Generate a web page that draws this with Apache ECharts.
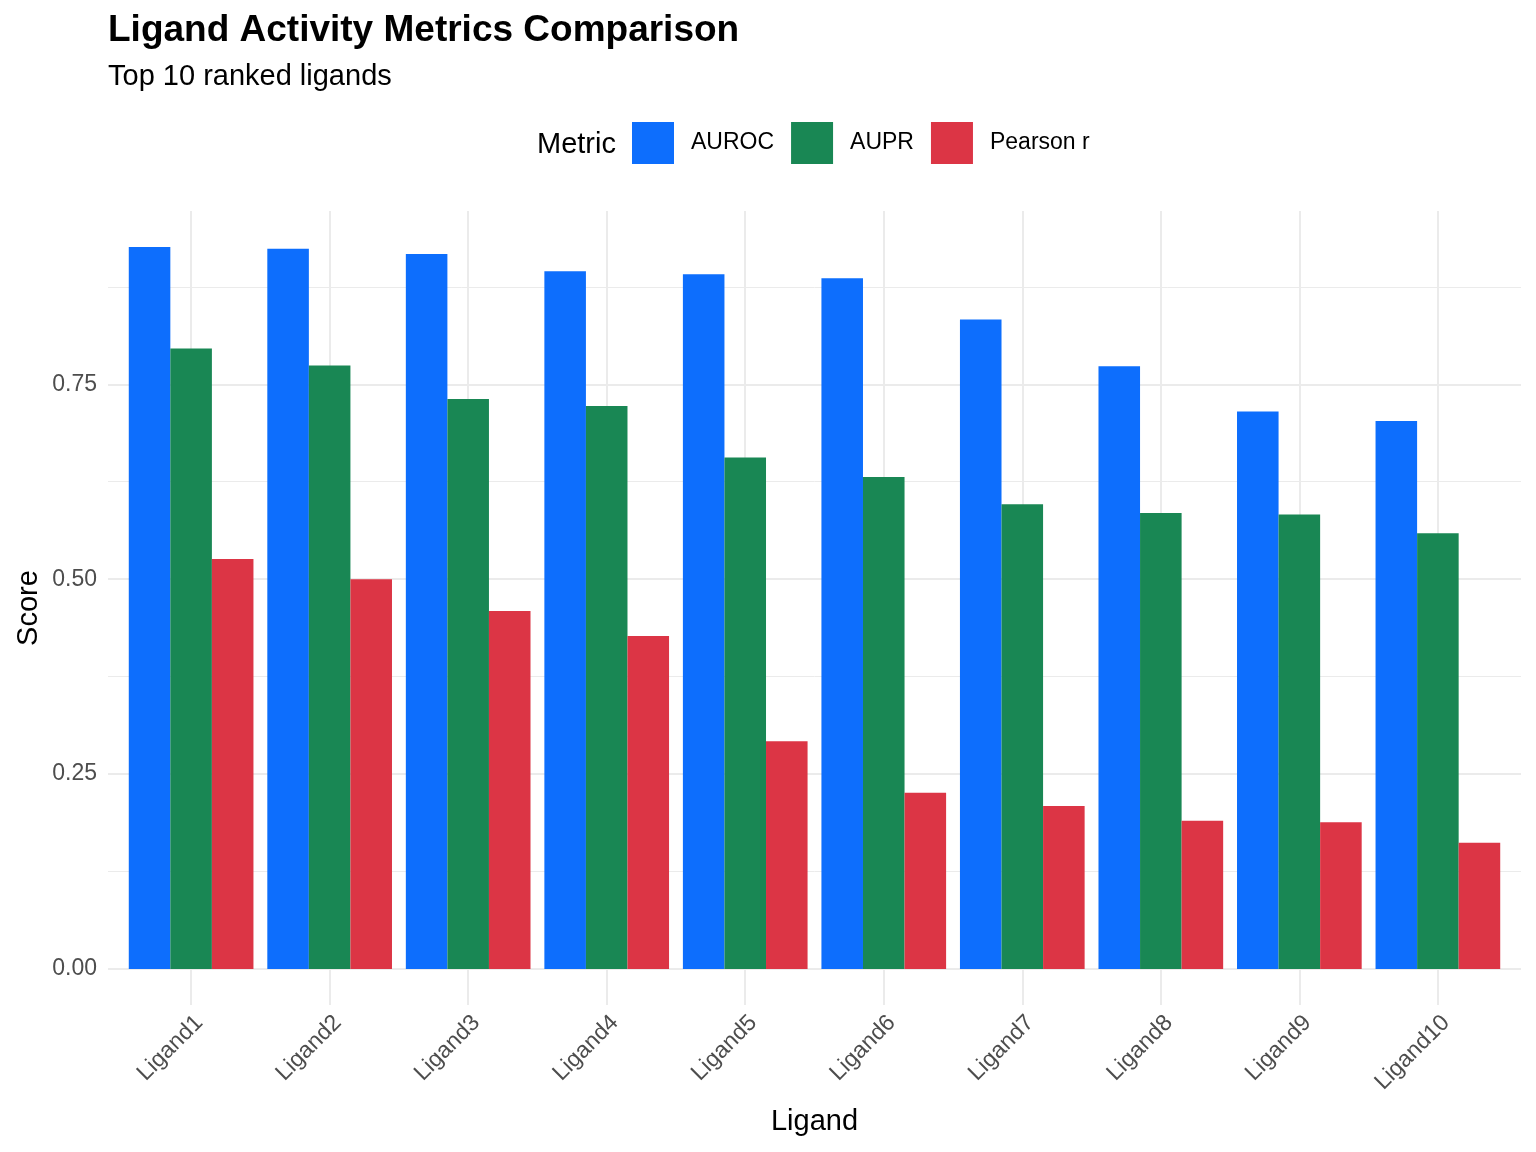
<!DOCTYPE html>
<html>
<head>
<meta charset="utf-8">
<script src="https://cdn.jsdelivr.net/npm/echarts@6/dist/echarts.min.js"></script>
<style>
  html, body { margin: 0; padding: 0; background: #fff; }
  #chart { width: 1536px; height: 1152px; }
</style>
</head>
<body>
<div id="chart"></div>
<script>
// data
var ligands = ['Ligand1', 'Ligand2', 'Ligand3', 'Ligand4', 'Ligand5', 'Ligand6', 'Ligand7', 'Ligand8', 'Ligand9', 'Ligand10'];
var auroc = [0.926, 0.924, 0.917, 0.895, 0.891, 0.886, 0.833, 0.773, 0.715, 0.703];
var aupr = [0.796, 0.774, 0.731, 0.722, 0.656, 0.631, 0.596, 0.585, 0.583, 0.559];
var pearson = [0.526, 0.500, 0.459, 0.427, 0.292, 0.226, 0.209, 0.190, 0.188, 0.162];
var metricNames = ['AUROC', 'AUPR', 'Pearson r'];
var metricColors = ['#0D6EFD', '#198754', '#DC3545'];

// panel layout (ggplot style, 5% expansion on y, 0.6 on discrete x)
var W = 1536, H = 1152;
var panelLeft = 108, panelRight = 1521, panelTop = 211, panelBottom = 1005;
var maxVal = Math.max.apply(null, auroc);
var yMax = maxVal * 1.05, yMin = -maxVal * 0.05;
var pxPerUnit = (panelBottom - panelTop) / (yMax - yMin);
var zeroY = panelBottom + yMin * pxPerUnit;
var band = (panelRight - panelLeft) / (ligands.length + 0.2);
var gridColor = '#EBEBEB';
var font = 'Liberation Sans, Helvetica, Arial, sans-serif';

var chart = echarts.init(document.getElementById('chart'));

var option = {
    backgroundColor: '#fff',
    textStyle: { fontFamily: font },
    title: [
        { text: 'Ligand Activity Metrics Comparison', left: 108, top: 12, padding: 0,
          textStyle: { fontSize: 37, fontWeight: 'bold', color: '#000', fontFamily: font } },
        { text: 'Top 10 ranked ligands', left: 108, top: 62, padding: 0,
          textStyle: { fontSize: 29, fontWeight: 'normal', color: '#000', fontFamily: font } }
    ],
    legend: {
        left: 632, top: 122, padding: 0,
        itemWidth: 42, itemHeight: 42, itemGap: 17,
        icon: 'rect',
        data: metricNames,
        textStyle: { fontSize: 23, color: '#000', padding: [0, 0, 0, 12], fontFamily: font }
    },
    graphic: [
        { type: 'text', x: 537, y: 145,
          style: { text: 'Metric', fill: '#000', font: '29px ' + font, textVerticalAlign: 'middle' } },
        { type: 'text', x: 29, y: (panelTop + panelBottom) / 2, rotation: Math.PI / 2,
          style: { text: 'Score', fill: '#000', font: '29px ' + font, textAlign: 'center', textVerticalAlign: 'middle' } },
        { type: 'text', x: (panelLeft + panelRight) / 2, y: 1122,
          style: { text: 'Ligand', fill: '#000', font: '29px ' + font, textAlign: 'center', textVerticalAlign: 'middle' } }
    ],
    grid: [
        // major y grid + labels
        { left: panelLeft, right: W - panelRight, top: panelTop, bottom: H - zeroY },
        // minor y grid, shifted by 0.125
        { left: panelLeft, right: W - panelRight, top: panelTop, bottom: H - (zeroY - 0.125 * pxPerUnit) },
        // vertical grid lines over the whole panel
        { left: panelLeft + 0.1 * band, right: W - panelRight + 0.1 * band, top: panelTop, bottom: H - panelBottom },
        // bars
        { left: panelLeft + 0.1 * band, right: W - panelRight + 0.1 * band, top: panelTop, bottom: H - zeroY }
    ],
    xAxis: [
        { gridIndex: 0, type: 'value', min: 0, max: 1, show: false },
        { gridIndex: 1, type: 'value', min: 0, max: 1, show: false },
        {
            gridIndex: 2, type: 'category', data: ligands,
            axisLine: { show: false },
            axisTick: { show: true, inside: true, alignWithLabel: true, length: panelBottom - panelTop,
                        lineStyle: { color: gridColor, width: 2 } },
            axisLabel: { show: false },
            splitLine: { show: false }
        },
        {
            gridIndex: 3, type: 'category', data: ligands,
            offset: panelBottom - zeroY,
            axisLine: { show: false },
            axisTick: { show: false },
            axisLabel: { rotate: 45, align: 'right', verticalAlign: 'top', margin: 6,
                         fontSize: 23, color: '#4D4D4D', fontFamily: font },
            splitLine: { show: false }
        }
    ],
    yAxis: [
        {
            gridIndex: 0, type: 'value', min: 0, max: yMax, interval: 0.25,
            axisLine: { show: false }, axisTick: { show: false },
            axisLabel: { fontSize: 23, color: '#4D4D4D', margin: 11, showMaxLabel: false, fontFamily: font,
                         formatter: function (v) { return v.toFixed(2); } },
            splitLine: { show: true, showMaxLine: false, lineStyle: { color: gridColor, width: 2 } }
        },
        {
            gridIndex: 1, type: 'value', min: 0, max: yMax - 0.125, interval: 0.25,
            axisLine: { show: false }, axisTick: { show: false }, axisLabel: { show: false },
            splitLine: { show: true, showMaxLine: false, lineStyle: { color: gridColor, width: 1 } }
        },
        {
            gridIndex: 2, type: 'value', min: 0, max: 1, show: false
        },
        {
            gridIndex: 3, type: 'value', min: 0, max: yMax,
            axisLine: { show: false }, axisTick: { show: false }, axisLabel: { show: false },
            splitLine: { show: false }
        }
    ],
    series: [
        { name: metricNames[0], type: 'bar', xAxisIndex: 3, yAxisIndex: 3, data: auroc,
          itemStyle: { color: metricColors[0] }, barGap: '0%', barCategoryGap: '10%' },
        { name: metricNames[1], type: 'bar', xAxisIndex: 3, yAxisIndex: 3, data: aupr,
          itemStyle: { color: metricColors[1] }, barGap: '0%', barCategoryGap: '10%' },
        { name: metricNames[2], type: 'bar', xAxisIndex: 3, yAxisIndex: 3, data: pearson,
          itemStyle: { color: metricColors[2] }, barGap: '0%', barCategoryGap: '10%' }
    ],
    animation: false
};

chart.setOption(option);
</script>
</body>
</html>
